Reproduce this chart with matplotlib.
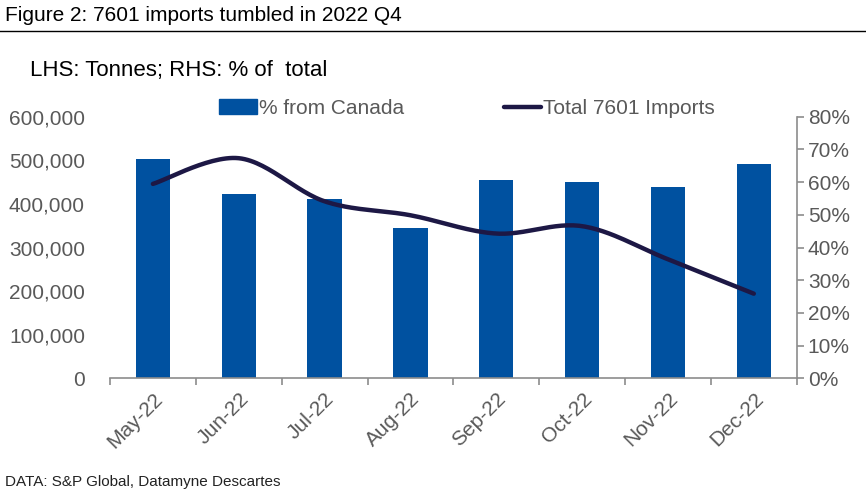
import numpy as np
import matplotlib.pyplot as plt
from matplotlib.lines import Line2D

plt.rcParams['font.family'] = ['Liberation Sans', 'DejaVu Sans']

months = ['May-22', 'Jun-22', 'Jul-22', 'Aug-22', 'Sep-22', 'Oct-22', 'Nov-22', 'Dec-22']
pct_canada = [67.2, 56.3, 54.8, 46.0, 60.6, 59.9, 58.4, 65.7]
total_imports = [446000, 505000, 406000, 374000, 332000, 349000, 273000, 194000]

bar_color = '#0051A0'
line_color = '#1D1845'
grey = '#595959'
axis_grey = '#8C8C8C'


def smooth(x, y, n=30):
    # catmull-rom, like excel's smoothed line
    x = np.asarray(x, float)
    y = np.asarray(y, float)
    px = np.concatenate([[x[0]], x, [x[-1]]])
    py = np.concatenate([[y[0]], y, [y[-1]]])
    xs, ys = [], []
    t = np.linspace(0, 1, n)
    for i in range(1, len(px) - 2):
        p0, p1, p2, p3 = (np.array([px[j], py[j]]) for j in range(i - 1, i + 3))
        b1 = p1 + (p2 - p0) / 6
        b2 = p2 - (p3 - p1) / 6
        pts = ((1 - t) ** 3)[:, None] * p1 + (3 * (1 - t) ** 2 * t)[:, None] * b1 \
            + (3 * (1 - t) * t ** 2)[:, None] * b2 + (t ** 3)[:, None] * p2
        xs.extend(pts[:, 0])
        ys.extend(pts[:, 1])
    return np.array(xs), np.array(ys)


fig = plt.figure(figsize=(8.66, 4.95), dpi=100)
ax = fig.add_axes([0.127, 0.236, 0.793, 0.528])
ax2 = ax.twinx()

x = np.arange(len(months))
ax2.bar(x, pct_canada, width=0.4, color=bar_color, zorder=2)
sx, sy = smooth(x, total_imports)
ax.plot(sx, sy, color=line_color, lw=3.2, solid_capstyle='round', zorder=3)

ax.set_zorder(ax2.get_zorder() + 1)
ax.patch.set_visible(False)

ax.set_xlim(-0.5, len(months) - 0.5)
ax.set_ylim(0, 600000)
ax2.set_ylim(0, 80)
ax.set_yticks(np.arange(0, 600001, 100000))
ax.set_yticklabels([f'{v:,}' for v in range(0, 600001, 100000)])
ax2.set_yticks(np.arange(0, 81, 10))
ax2.set_yticklabels([f'{v}%' for v in range(0, 81, 10)])

ax.set_xticks(x)
ax.set_xticklabels(months, rotation=45, ha='right', rotation_mode='anchor')
ax.set_xticks(np.arange(-0.5, len(months)), minor=True)
ax.tick_params(axis='x', which='major', length=0, labelsize=15, labelcolor=grey, pad=8)
ax.tick_params(axis='x', which='minor', length=5, color=axis_grey, width=1.2)
ax.tick_params(axis='y', length=0, labelsize=15, labelcolor=grey, pad=18)
ax2.tick_params(axis='y', length=5, color=axis_grey, width=1.2, labelsize=15,
                labelcolor=grey, pad=3)

for a in (ax, ax2):
    for s in ('top', 'left'):
        a.spines[s].set_visible(False)
ax.spines['right'].set_visible(False)
ax2.spines['right'].set_color(axis_grey)
ax2.spines['right'].set_linewidth(1.2)
ax2.spines['bottom'].set_visible(False)
ax.spines['bottom'].set_color(axis_grey)
ax.spines['bottom'].set_linewidth(1.2)

handles = [plt.Rectangle((0, 0), 1, 1, color=bar_color),
           Line2D([0], [0], color=line_color, lw=3.2, solid_capstyle='round')]
ax.legend(handles, ['% from Canada', 'Total 7601 Imports'], ncol=2, frameon=False,
          loc='upper center', bbox_to_anchor=(0.52, 1.14), fontsize=15,
          labelcolor=grey, handlelength=1.8, handletextpad=0.1, columnspacing=4.8)

fig.text(0.006, 0.968, 'Figure 2: 7601 imports tumbled in 2022 Q4', fontsize=15,
         va='center', ha='left', color='black')
fig.add_artist(Line2D([0, 1], [0.937, 0.937], color='black', lw=1))
fig.text(0.035, 0.858, 'LHS: Tonnes; RHS: % of  total', fontsize=16,
         va='center', ha='left', color='black')
fig.text(0.006, 0.026, 'DATA: S&P Global, Datamyne Descartes', fontsize=11,
         va='center', ha='left', color='#222222')

fig.savefig('out.png', dpi=100)
